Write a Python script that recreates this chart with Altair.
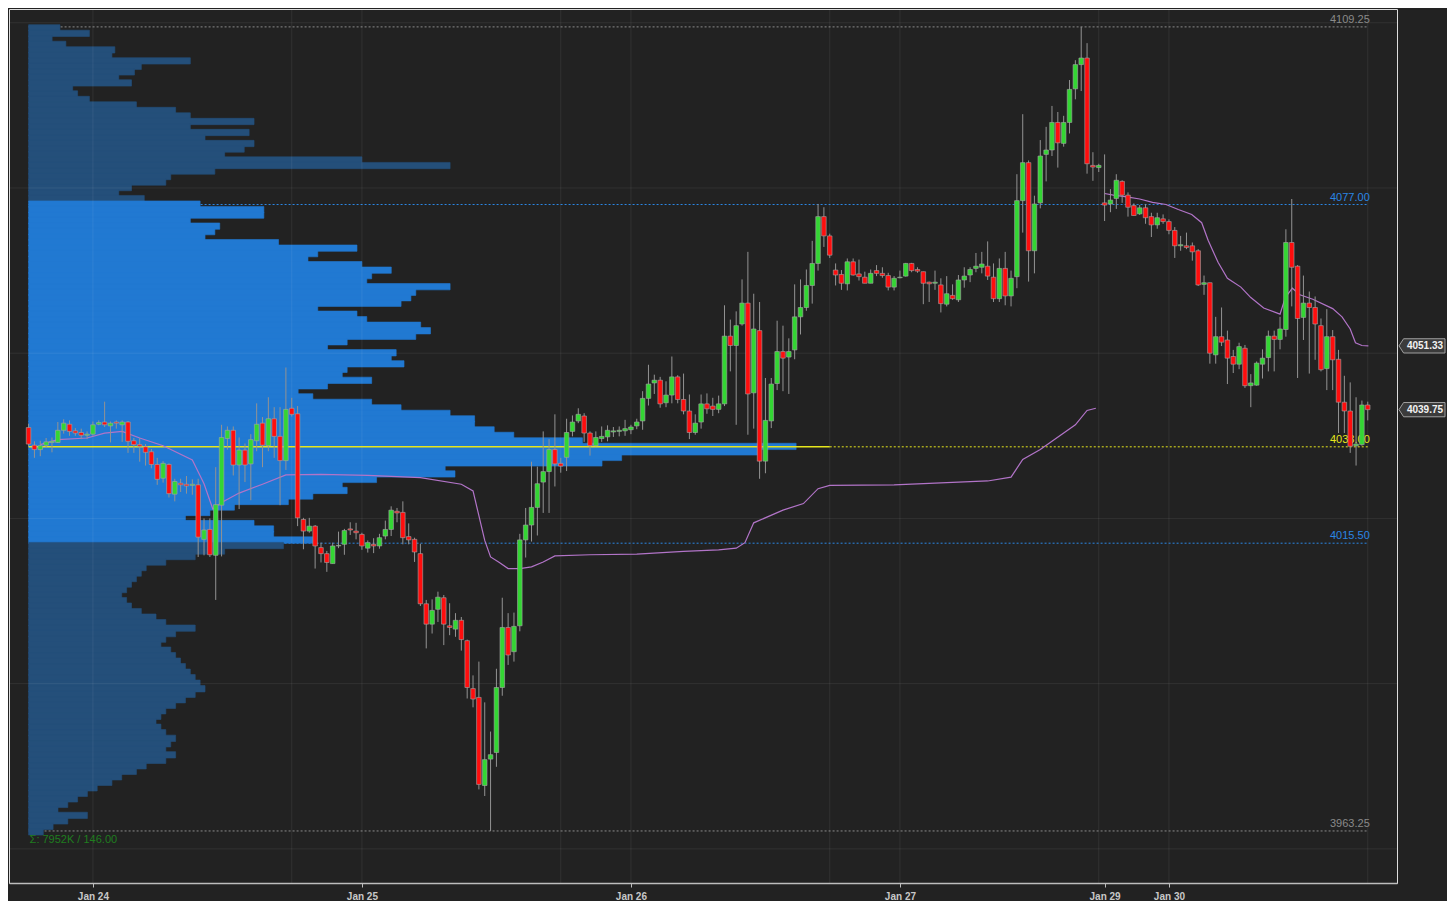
import altair as alt
import pandas as pd

# ---------------- candles (30-minute bars, index 0..229) ----------------
opens = [
    4036.5, 4033.3, 4032.5, 4033.3, 4033.8, 4033.8, 4036.0, 4037.1, 4035.9, 4035.6,
    4035.1, 4035.3, 4037.1, 4037.5, 4036.8, 4037.5, 4037.0, 4037.5, 4034.1, 4033.4,
    4033.0, 4032.1, 4029.8, 4027.3, 4029.8, 4024.4, 4026.4, 4026.2, 4026.0, 4026.1,
    4016.2, 4018.0, 4013.3, 4022.4, 4034.5, 4036.0, 4029.7, 4032.4, 4029.9, 4034.1,
    4037.3, 4033.2, 4038.1, 4034.9, 4030.5, 4040.0, 4039.0, 4019.8, 4017.7, 4018.6,
    4014.7, 4013.6, 4011.8, 4015.0, 4015.3, 4018.1, 4017.7, 4017.1, 4014.6, 4015.3,
    4015.0, 4016.8, 4018.0, 4021.3, 4021.1, 4016.7, 4016.2, 4013.6, 4004.5, 4000.8,
    4003.5, 4005.6, 4000.5, 3999.9, 4001.5, 3997.8, 3989.1, 3987.5, 3971.5, 3976.3,
    3977.5, 3989.3, 4000.2, 3995.8, 4000.5, 4016.1, 4018.8, 4022.0, 4026.6, 4028.5,
    4032.5, 4030.0, 4031.1, 4035.8, 4037.7, 4038.6, 4035.5, 4033.2, 4034.5, 4034.8,
    4035.7, 4035.8, 4035.9, 4036.1, 4036.8, 4037.7, 4041.8, 4044.6, 4045.1, 4041.0,
    4042.4, 4045.7, 4041.6, 4039.5, 4035.6, 4037.5, 4040.8, 4040.4, 4039.8, 4040.8,
    4053.1, 4051.4, 4055.3, 4059.1, 4042.8, 4054.1, 4030.4, 4037.7, 4044.5, 4050.3,
    4049.3, 4050.6, 4056.6, 4058.3, 4062.3, 4066.3, 4074.8, 4071.3, 4065.1, 4064.3,
    4062.6, 4066.6, 4064.4, 4063.8, 4062.7, 4065.0, 4064.5, 4064.1, 4062.0, 4063.7,
    4064.0, 4066.3, 4065.2, 4064.8, 4062.9, 4062.7, 4062.4, 4058.9, 4060.5, 4059.7,
    4063.3, 4064.2, 4065.4, 4065.6, 4065.8, 4063.8, 4059.9, 4065.4, 4060.4, 4063.9,
    4077.7, 4084.6, 4068.6, 4077.3, 4086.1, 4086.9, 4091.9, 4088.1, 4091.9, 4098.0,
    4102.4, 4103.6, 4084.1, 4083.7, 4077.3, 4077.1, 4078.1, 4081.2, 4078.7, 4076.8,
    4075.3, 4076.4, 4074.8, 4073.3, 4074.4, 4073.9, 4072.3, 4069.5, 4069.5, 4069.5,
    4068.6, 4062.5, 4062.8, 4049.7, 4053.0, 4052.4, 4049.4, 4048.0, 4050.9, 4044.1,
    4044.2, 4048.0, 4049.2, 4053.1, 4052.5, 4054.3, 4070.1, 4065.8, 4056.5, 4059.1,
    4058.3, 4055.0, 4047.2, 4053.0, 4048.9, 4041.1, 4039.5, 4033.2, 4033.4, 4040.6,
]
highs = [
    4037.2, 4034.0, 4034.1, 4034.6, 4034.7, 4037.5, 4038.0, 4037.8, 4036.4, 4036.3,
    4035.8, 4037.6, 4037.8, 4041.2, 4037.6, 4037.8, 4037.8, 4037.7, 4034.6, 4034.6,
    4033.5, 4032.6, 4031.0, 4030.4, 4030.0, 4027.2, 4027.2, 4027.7, 4027.1, 4027.2,
    4020.0, 4020.0, 4029.3, 4037.0, 4036.7, 4036.7, 4034.7, 4033.6, 4035.3, 4040.9,
    4038.4, 4042.0, 4040.2, 4040.2, 4047.4, 4041.9, 4040.4, 4020.1, 4020.1, 4018.8,
    4015.6, 4014.1, 4015.6, 4017.6, 4018.1, 4019.3, 4019.2, 4017.4, 4016.0, 4016.4,
    4017.2, 4019.6, 4022.2, 4021.9, 4023.1, 4019.1, 4016.5, 4015.4, 4005.2, 4005.3,
    4006.7, 4006.1, 4004.6, 4002.8, 4002.1, 3998.0, 3991.5, 3994.0, 3986.6, 3981.3,
    3992.7, 4005.6, 4002.8, 4002.9, 4017.2, 4021.9, 4030.3, 4029.4, 4035.8, 4034.4,
    4038.9, 4031.0, 4038.1, 4038.7, 4040.0, 4039.1, 4035.8, 4035.8, 4036.7, 4036.9,
    4036.6, 4036.7, 4037.9, 4037.0, 4038.1, 4043.1, 4047.9, 4046.1, 4045.7, 4044.9,
    4049.4, 4046.0, 4046.3, 4042.5, 4038.9, 4042.5, 4042.7, 4041.9, 4042.3, 4058.7,
    4056.1, 4057.6, 4063.4, 4068.4, 4060.8, 4059.3, 4045.5, 4045.5, 4055.9, 4055.0,
    4052.7, 4062.5, 4063.4, 4065.2, 4070.4, 4077.1, 4076.5, 4071.7, 4066.3, 4065.1,
    4067.2, 4067.2, 4067.0, 4064.8, 4065.2, 4066.0, 4065.6, 4064.6, 4064.0, 4065.0,
    4066.4, 4066.4, 4065.6, 4064.8, 4063.0, 4065.0, 4063.6, 4064.0, 4062.5, 4064.2,
    4065.6, 4065.6, 4068.2, 4068.4, 4070.3, 4066.3, 4067.2, 4068.4, 4065.0, 4082.5,
    4093.4, 4085.0, 4078.6, 4088.7, 4091.1, 4094.9, 4093.8, 4093.1, 4099.6, 4103.2,
    4109.25, 4106.3, 4086.5, 4084.4, 4086.1, 4079.8, 4082.5, 4081.4, 4079.2, 4077.2,
    4076.9, 4077.1, 4075.5, 4075.5, 4075.2, 4074.3, 4072.9, 4071.3, 4071.9, 4070.1,
    4068.9, 4064.1, 4062.8, 4056.6, 4058.3, 4054.1, 4050.6, 4051.9, 4051.5, 4046.2,
    4048.5, 4050.7, 4054.1, 4054.1, 4056.6, 4072.5, 4078.0, 4066.0, 4064.1, 4061.2,
    4060.3, 4056.3, 4058.0, 4054.2, 4050.6, 4045.9, 4044.7, 4042.0, 4041.4, 4041.2,
]
lows = [
    4033.0, 4031.0, 4031.3, 4032.8, 4032.0, 4033.7, 4035.4, 4035.0, 4035.0, 4034.4,
    4034.4, 4035.0, 4036.9, 4036.6, 4033.8, 4036.3, 4033.9, 4031.9, 4031.9, 4030.3,
    4029.6, 4029.1, 4026.1, 4026.5, 4023.8, 4023.1, 4024.8, 4024.5, 4024.3, 4013.0,
    4013.3, 4013.0, 4005.2, 4013.1, 4032.5, 4027.8, 4021.7, 4026.6, 4023.3, 4032.2,
    4029.3, 4032.2, 4031.0, 4022.4, 4028.8, 4038.5, 4018.6, 4014.4, 4017.4, 4010.9,
    4012.0, 4010.3, 4011.8, 4014.6, 4013.4, 4017.0, 4016.2, 4014.3, 4013.8, 4013.7,
    4014.5, 4016.2, 4016.8, 4019.3, 4015.3, 4015.3, 4012.1, 4004.1, 3996.4, 3999.1,
    4001.2, 3997.0, 3998.8, 3998.5, 3996.0, 3987.3, 3985.7, 3970.8, 3969.6, 3963.25,
    3974.9, 3987.8, 3993.4, 3994.0, 3999.5, 4012.9, 4015.8, 4016.9, 4021.0, 4021.0,
    4025.8, 4028.3, 4028.6, 4034.9, 4037.3, 4033.9, 4031.4, 4033.1, 4033.9, 4034.0,
    4034.8, 4034.9, 4035.0, 4035.3, 4036.2, 4036.1, 4040.5, 4042.6, 4040.1, 4040.2,
    4040.9, 4040.9, 4038.9, 4034.4, 4035.2, 4036.3, 4039.0, 4038.6, 4039.1, 4040.4,
    4046.7, 4037.0, 4055.0, 4035.2, 4036.3, 4027.2, 4028.2, 4036.4, 4043.3, 4043.1,
    4042.6, 4048.9, 4053.4, 4057.7, 4059.0, 4065.0, 4069.3, 4067.3, 4062.3, 4061.5,
    4061.4, 4064.1, 4063.2, 4062.7, 4062.7, 4064.0, 4063.7, 4061.4, 4061.4, 4063.6,
    4063.9, 4064.7, 4064.6, 4058.9, 4059.3, 4061.5, 4057.4, 4058.5, 4059.7, 4059.3,
    4061.9, 4062.9, 4064.7, 4064.5, 4063.3, 4059.3, 4059.3, 4058.7, 4058.5, 4061.8,
    4071.9, 4063.0, 4064.5, 4076.3, 4081.2, 4085.8, 4083.7, 4087.5, 4089.9, 4096.1,
    4097.6, 4082.6, 4081.3, 4082.9, 4074.0, 4075.6, 4076.2, 4077.3, 4074.8, 4075.0,
    4075.1, 4073.5, 4071.1, 4072.6, 4073.5, 4071.6, 4067.3, 4068.6, 4068.9, 4066.8,
    4062.2, 4060.6, 4048.1, 4048.1, 4051.3, 4044.4, 4046.4, 4047.1, 4043.7, 4040.2,
    4044.1, 4045.4, 4046.7, 4046.7, 4050.7, 4053.0, 4058.5, 4045.5, 4052.4, 4046.3,
    4048.8, 4046.7, 4043.3, 4043.3, 4035.5, 4035.5, 4031.9, 4029.6, 4033.2, 4037.8,
]
closes = [
    4033.5, 4032.5, 4033.2, 4033.9, 4034.0, 4036.0, 4037.3, 4035.8, 4035.5, 4035.1,
    4035.3, 4037.0, 4037.4, 4037.0, 4037.3, 4037.3, 4037.5, 4034.0, 4033.4, 4033.1,
    4032.0, 4029.8, 4027.1, 4030.0, 4024.5, 4026.7, 4026.1, 4025.9, 4026.2, 4016.6,
    4017.9, 4013.4, 4022.5, 4034.7, 4036.0, 4029.7, 4032.4, 4029.7, 4034.3, 4037.1,
    4033.3, 4038.1, 4034.9, 4030.5, 4039.8, 4038.9, 4020.1, 4017.7, 4018.6, 4015.0,
    4013.6, 4012.0, 4015.0, 4015.1, 4017.8, 4017.9, 4017.4, 4015.0, 4015.6, 4015.0,
    4016.5, 4018.0, 4021.5, 4021.0, 4016.5, 4016.1, 4013.9, 4004.5, 4000.8, 4003.3,
    4005.7, 4000.8, 4000.2, 4001.5, 3998.0, 3989.3, 3987.2, 3971.7, 3976.2, 3977.1,
    3989.3, 4000.2, 3995.2, 4000.4, 4016.1, 4018.8, 4022.0, 4026.3, 4028.5, 4032.5,
    4029.9, 4029.5, 4035.6, 4037.5, 4038.9, 4035.5, 4033.2, 4034.7, 4034.9, 4036.0,
    4035.9, 4036.0, 4036.3, 4036.6, 4037.5, 4041.8, 4044.4, 4045.1, 4040.8, 4042.4,
    4045.7, 4041.6, 4039.5, 4035.6, 4037.3, 4040.8, 4039.9, 4039.8, 4040.8, 4053.1,
    4051.4, 4055.0, 4059.1, 4042.6, 4054.4, 4030.4, 4037.8, 4044.4, 4050.3, 4049.1,
    4050.3, 4056.6, 4058.3, 4062.3, 4066.3, 4074.8, 4071.3, 4067.8, 4064.2, 4062.7,
    4066.6, 4064.2, 4063.9, 4062.7, 4064.5, 4064.5, 4064.1, 4062.0, 4063.6, 4063.8,
    4066.3, 4065.0, 4064.9, 4062.7, 4062.6, 4062.9, 4059.0, 4060.8, 4059.9, 4063.3,
    4064.0, 4065.2, 4065.8, 4066.2, 4064.0, 4059.9, 4065.4, 4060.4, 4063.6, 4077.7,
    4084.6, 4068.6, 4077.1, 4085.8, 4086.9, 4091.9, 4088.2, 4091.9, 4097.9, 4102.4,
    4103.6, 4084.4, 4083.8, 4084.1, 4076.9, 4077.8, 4081.4, 4078.7, 4076.5, 4075.0,
    4076.4, 4074.6, 4073.3, 4074.6, 4073.9, 4072.3, 4069.5, 4069.7, 4069.2, 4068.4,
    4062.4, 4062.8, 4050.0, 4053.0, 4052.0, 4049.1, 4048.0, 4051.2, 4044.1, 4044.6,
    4048.2, 4049.1, 4053.1, 4052.5, 4054.4, 4070.1, 4065.6, 4056.3, 4059.1, 4058.3,
    4055.3, 4047.0, 4053.0, 4048.8, 4041.1, 4039.5, 4033.1, 4033.5, 4040.6, 4039.75,
]

# ---------------- VWAP lines (bar index, price) ----------------
vwap1_bar = [2, 5, 10, 13, 16, 19, 23, 28, 30, 31.5, 33, 36, 40, 44, 50, 58, 67, 74, 76,
             78, 79, 80.5, 82, 84, 86, 88, 90, 96, 104, 112, 118, 121, 122.5, 124, 129,
             132.5, 135, 137, 148, 164, 168, 170, 173, 179, 181, 182.5]
vwap1_val = [4033.4, 4034.3, 4034.6, 4035.5, 4035.8, 4034.6, 4033.2, 4030.6, 4026.3, 4021.7,
             4022.9, 4024.6, 4026.2, 4027.9, 4028.0, 4027.8, 4027.4, 4026.2, 4025.0, 4016.0,
             4013.0, 4012.0, 4010.9, 4010.9, 4011.2, 4012.1, 4013.2, 4013.4, 4013.5, 4014.0,
             4014.3, 4014.6, 4015.6, 4019.2, 4021.5, 4022.7, 4025.4, 4026.0, 4026.1, 4026.8,
             4027.5, 4030.7, 4032.5, 4037.0, 4039.6, 4040.0]
vwap2_bar = [184, 185.5, 187.8, 190, 192.2, 194.5, 196.6, 198.9, 200.6, 201.7, 203.4, 205,
             207.3, 209, 211.2, 214, 214.9, 216.1, 217.4, 219.6, 223, 224.6, 226, 226.9,
             228, 229.1]
vwap2_val = [4079.0, 4078.7, 4078.4, 4078.0, 4077.4, 4077.0, 4076.1, 4075.2, 4073.7, 4070.5,
             4066.5, 4063.6, 4062.0, 4060.1, 4058.2, 4057.1, 4060.1, 4061.8, 4060.6, 4059.8,
             4058.1, 4056.6, 4054.4, 4051.9, 4051.4, 4051.33]

# ---------------- composite volume profile (1-point rows, 4109 down to 3963) ----------------
profile_top = 4109
profile_vol = [
    32, 62, 24, 38, 88, 85, 165, 115, 108, 92,
    105, 45, 50, 62, 110, 150, 165, 230, 165, 225,
    180, 230, 220, 200, 340, 430, 190, 145, 140, 105,
    92, 118, 175, 240, 240, 165, 195, 190, 180, 255,
    335, 295, 285, 340, 370, 350, 345, 430, 395, 390,
    380, 295, 335, 345, 400, 410, 395, 325, 305, 375,
    370, 383, 325, 320, 350, 305, 275, 290, 350, 380,
    430, 455, 455, 475, 495, 565, 783, 745, 605, 585,
    425, 435, 355, 320, 325, 290, 265, 210, 185, 160,
    230, 250, 250, 290, 260, 200, 170, 140, 120, 115,
    110, 105, 100, 95, 100, 105, 115, 130, 140, 170,
    150, 140, 135, 145, 150, 155, 160, 165, 170, 175,
    180, 170, 160, 150, 140, 135, 130, 135, 140, 150,
    145, 140, 150, 140, 120, 110, 95, 85, 70, 60,
    50, 40, 30, 60, 40, 25, 15,
]
va_low, va_high = 4015.5, 4077.0
poc_price = 4033.0
poc_solid_end = 137

# ---------------- levels, ticks, tags ----------------
level_price = [4109.25, 4077.00, 4015.50, 3963.25, 4033.00]
level_label = ["4109.25", "4077.00", "4015.50", "3963.25", "4033.00"]
level_color = ["#8a8a8a", "#2a86e4", "#2a86e4", "#8a8a8a", "#e6e61c"]
level_start = [0, 0, 0, 0, 137]
level_end = [229, 229, 229, 229, 229]

date_tick_bars = [11, 57, 103, 149, 184, 195]
date_tick_labels = ["Jan 24", "Jan 25", "Jan 26", "Jan 27", "Jan 29", "Jan 30"]
session_grid_bars = [11, 45, 57, 91, 103, 137, 149, 183, 195, 229]
price_grid = [3960, 3990, 4020, 4050, 4080, 4110]
price_ticks = [3960, 3970, 3980, 3990, 4000, 4010, 4020, 4030, 4040, 4050,
               4060, 4070, 4080, 4090, 4100, 4110]

tag_price = [4051.33, 4039.75]
tag_text = ["4051.33", "4039.75"]
summary_text = "Σ: 7952K / 146.00"

# ---------------- build ----------------
W, H = 1388, 874
BG = "#222222"
VA_BLUE = "#2179d2"
OUT_BLUE = "#244f7a"
xs = alt.Scale(domain=[-3.35, 234.0], nice=False, zero=False)
ys = alt.Scale(domain=[3953.8, 4112.5], nice=False, zero=False)
ps = alt.Scale(domain=[-20, 1396], nice=False, zero=False)

candles = pd.DataFrame({"bar": list(range(len(opens))), "open": opens, "high": highs,
                        "low": lows, "close": closes})
vwap = pd.DataFrame({
    "bar": vwap1_bar + vwap2_bar,
    "val": vwap1_val + vwap2_val,
    "seg": ["a"] * len(vwap1_bar) + ["b"] * len(vwap2_bar),
})
profile = pd.DataFrame({"price": [profile_top - i for i in range(len(profile_vol))],
                        "vol": profile_vol})
levels = pd.DataFrame({"price": level_price, "label": level_label, "color": level_color,
                       "start": level_start, "end": level_end})
poc = pd.DataFrame({"price": [poc_price], "start": [0], "end": [poc_solid_end]})
vgrid = pd.DataFrame({"bar": session_grid_bars})
hgrid = pd.DataFrame({"price": price_grid})
tags = pd.DataFrame({"price": tag_price, "text": tag_text})
summ = pd.DataFrame({"bar": [0], "price": [3963.25], "text": [summary_text]})

label_expr = ""
for b, l in zip(date_tick_bars, date_tick_labels):
    label_expr += f"datum.value == {b} ? '{l}' : "
label_expr += "''"

x_axis = alt.Axis(values=date_tick_bars, labelExpr=label_expr, grid=False, title=None,
                  domainColor="#bdbdbd", domainWidth=1.5, tickColor="#bdbdbd", tickSize=4,
                  labelColor="#c8c8c8", labelFontSize=10, labelFontWeight="bold",
                  labelPadding=4)
y_axis = alt.Axis(orient="right", values=price_ticks, format=".2f", grid=False, title=None,
                  domainColor="#bdbdbd", domainWidth=1.5, tickColor="#bdbdbd", tickSize=5,
                  labelColor="#c8c8c8", labelFontSize=10, labelFontWeight="bold",
                  labelPadding=3)

level_lines = alt.Chart(levels).mark_rule(strokeDash=[2, 2], strokeWidth=1).encode(
    x=alt.X("start:Q", scale=xs, axis=None), x2="end:Q",
    y=alt.Y("price:Q", scale=ys, axis=None),
    color=alt.Color("color:N", scale=None),
)

# rows overlap slightly (and carry a same-colour stroke) so no seams appear
in_va = f"datum.price >= {va_low} && datum.price <= {va_high}"
profile_layer = alt.Chart(profile).transform_calculate(
    lo="datum.price - 0.5", hi="datum.price + 0.65", base="0",
).mark_rect(strokeWidth=0.6).encode(
    x=alt.X("base:Q", scale=ps, axis=None), x2="vol:Q",
    y=alt.Y("lo:Q", scale=ys, axis=None), y2="hi:Q",
    color=alt.condition(in_va, alt.value(VA_BLUE), alt.value(OUT_BLUE)),
    stroke=alt.condition(in_va, alt.value(VA_BLUE), alt.value(OUT_BLUE)),
)

grid_v = alt.Chart(vgrid).mark_rule(color="#ffffff", opacity=0.07, strokeWidth=1).encode(
    x=alt.X("bar:Q", scale=xs, axis=None))
grid_h = alt.Chart(hgrid).mark_rule(color="#ffffff", opacity=0.07, strokeWidth=1).encode(
    y=alt.Y("price:Q", scale=ys, axis=None))

poc_line = alt.Chart(poc).mark_rule(color="#e6e61c", strokeWidth=1.5).encode(
    x=alt.X("start:Q", scale=xs, axis=None), x2="end:Q",
    y=alt.Y("price:Q", scale=ys, axis=None))

level_text = alt.Chart(levels).mark_text(align="right", baseline="middle", dy=-7, dx=2,
                                         fontSize=11).encode(
    x=alt.X("end:Q", scale=xs, axis=None),
    y=alt.Y("price:Q", scale=ys, axis=None),
    text="label:N",
    color=alt.Color("color:N", scale=None),
)

summary = alt.Chart(summ).mark_text(align="left", baseline="middle", dx=1, dy=9,
                                    fontSize=11, color="#1f7d1f").encode(
    x=alt.X("bar:Q", scale=xs, axis=None),
    y=alt.Y("price:Q", scale=ys, axis=None),
    text="text:N",
)

vwap_line = alt.Chart(vwap).mark_line(color="#b274c8", strokeWidth=1.2).encode(
    x=alt.X("bar:Q", scale=xs, axis=None),
    y=alt.Y("val:Q", scale=ys, axis=None),
    detail="seg:N",
)

wicks = alt.Chart(candles).mark_rule(color="#939393", strokeWidth=1).encode(
    x=alt.X("bar:Q", scale=xs, axis=x_axis),
    y=alt.Y("low:Q", scale=ys, axis=y_axis), y2="high:Q",
)

bodies = alt.Chart(candles).transform_calculate(
    xl="datum.bar - 0.39", xr="datum.bar + 0.39",
).mark_rect(stroke="#a6a6a6", strokeWidth=0.6).encode(
    x=alt.X("xl:Q", scale=xs, axis=None), x2="xr:Q",
    y=alt.Y("open:Q", scale=ys, axis=None), y2="close:Q",
    color=alt.condition("datum.close >= datum.open", alt.value("#33d633"),
                        alt.value("#ff0d0d")),
)

tag_shape = "M -1 0 L -0.8 -0.31 L 1 -0.31 L 1 0.31 L -0.8 0.31 Z"
tag_box = alt.Chart(tags).mark_point(shape=tag_shape, filled=True, size=2116,
                                     color="#3b3b3b", stroke="#a0a0a0", strokeWidth=1,
                                     opacity=1).encode(
    x=alt.value(W + 25),
    y=alt.Y("price:Q", scale=ys, axis=None),
)
tag_label = alt.Chart(tags).mark_text(color="#f2f2f2", fontWeight="bold", fontSize=10,
                                      align="center", baseline="middle").encode(
    x=alt.value(W + 28),
    y=alt.Y("price:Q", scale=ys, axis=None),
    text="text:N",
)

chart = alt.layer(
    level_lines, profile_layer, grid_v, grid_h, poc_line, level_text, summary,
    vwap_line, wicks, bodies, tag_box, tag_label,
).resolve_scale(x="independent").properties(
    width=W, height=H, background=BG, padding=0,
).configure_view(stroke=None).configure(font="Liberation Sans")

chart.save("out.html", embed_options={"renderer": "svg", "actions": False})
